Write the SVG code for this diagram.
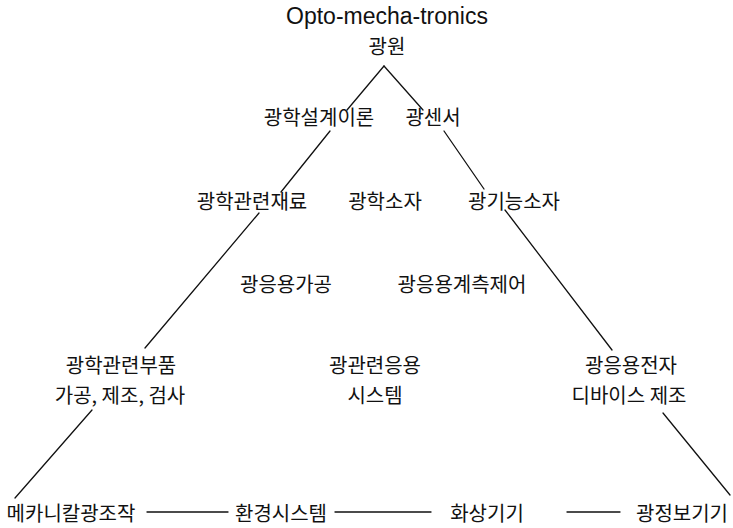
<svg xmlns="http://www.w3.org/2000/svg" width="733" height="528" viewBox="0 0 733 528">
<style>
.t{font-family:"Noto Sans CJK KR","Noto Sans",sans-serif;font-size:20px;fill:#111;text-anchor:middle}
.l{font-family:"Liberation Sans",Arial,sans-serif;font-size:23px;fill:#111;text-anchor:middle}
.c line{stroke:#111;stroke-width:1.3;fill:none;stroke-linecap:round}
</style>
<rect width="733" height="528" fill="#fff"/>
<g class="c" id="connectors">
<line x1="347" y1="110" x2="384" y2="66"/>
<line x1="384" y1="66" x2="423" y2="110"/>
<line x1="330" y1="131" x2="281" y2="192"/>
<line x1="444" y1="131" x2="484" y2="189"/>
<line x1="259" y1="213" x2="145" y2="348"/>
<line x1="505" y1="210" x2="612" y2="350"/>
<line x1="92" y1="410" x2="15" y2="498"/>
<line x1="663" y1="413" x2="730" y2="495"/>
<line x1="147" y1="512" x2="228" y2="512"/>
<line x1="335" y1="512" x2="431" y2="512"/>
<line x1="567" y1="512" x2="620" y2="512"/>
</g>
<g id="title"><text class="l" x="387" y="24">Opto-mecha-tronics</text></g>
<g id="n-gwangwon"><text class="t" x="387" y="54">광원</text></g>
<g id="n-design"><text class="t" x="319" y="125">광학설계이론</text></g>
<g id="n-sensor"><text class="t" x="433" y="125">광센서</text></g>
<g id="n-material"><text class="t" x="252" y="209">광학관련재료</text></g>
<g id="n-element"><text class="t" x="385" y="209">광학소자</text></g>
<g id="n-function"><text class="t" x="514" y="209">광기능소자</text></g>
<g id="n-processing"><text class="t" x="286" y="292">광응용가공</text></g>
<g id="n-measure"><text class="t" x="462" y="292">광응용계측제어</text></g>
<g id="n-parts"><text class="t" x="121" y="373">광학관련부품</text><text class="t" x="120" y="403">가공, 제조, 검사</text></g>
<g id="n-system"><text class="t" x="375" y="373">광관련응용</text><text class="t" x="375" y="403">시스템</text></g>
<g id="n-device"><text class="t" x="631" y="373">광응용전자</text><text class="t" x="629" y="403">디바이스 제조</text></g>
<g id="n-mechanical"><text class="t" x="71" y="521">메카니칼광조작</text></g>
<g id="n-environment"><text class="t" x="281" y="521">환경시스템</text></g>
<g id="n-imaging"><text class="t" x="487" y="521">화상기기</text></g>
<g id="n-info"><text class="t" x="682" y="521">광정보기기</text></g>
</svg>
